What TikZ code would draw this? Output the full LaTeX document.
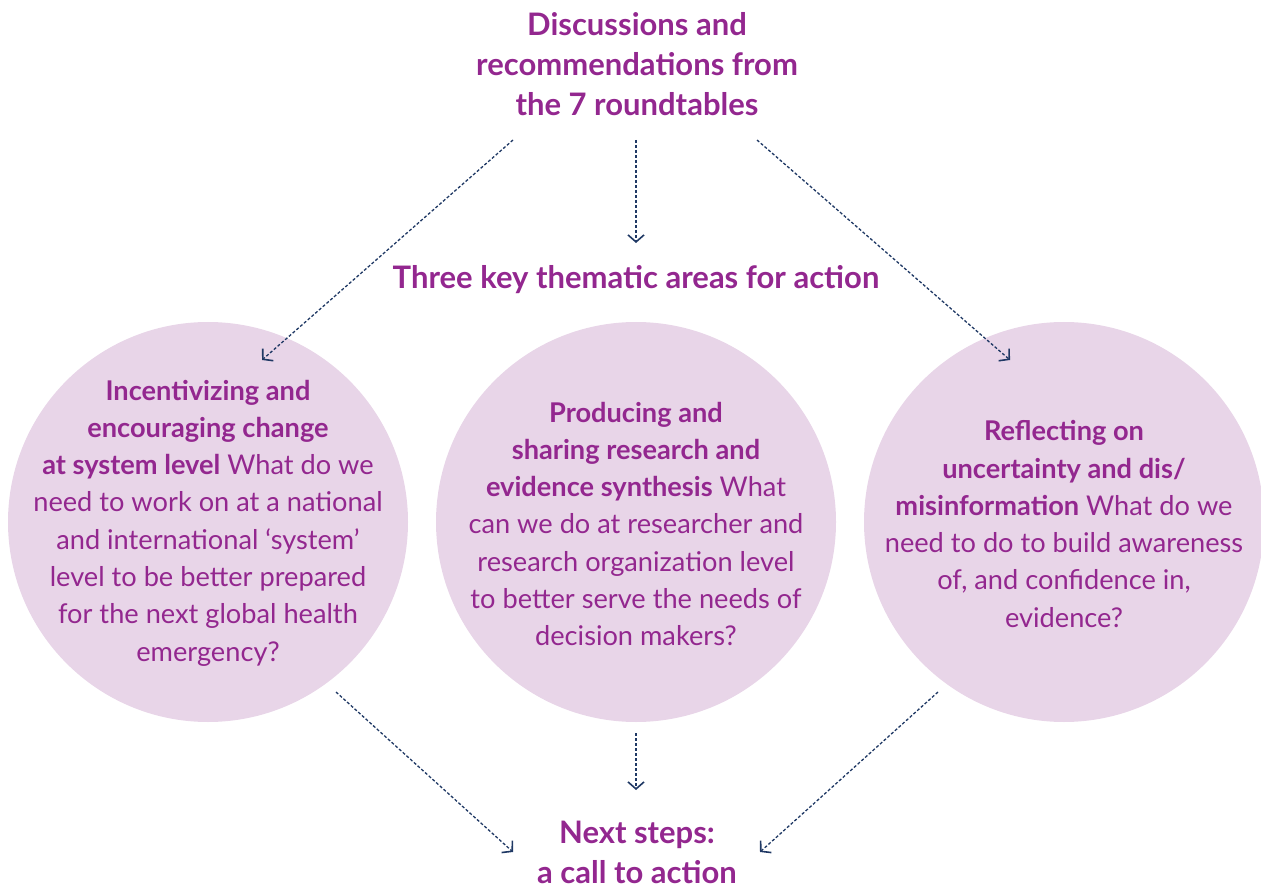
\documentclass[tikz,border=0pt]{standalone}
\usepackage{fontspec}
\setmainfont{Lato}
\usetikzlibrary{arrows.meta}
\definecolor{purp}{HTML}{93278F}
\definecolor{pinkfill}{HTML}{E8D5E8}
\definecolor{navy}{HTML}{1F3864}
\tikzset{
  circ/.style={circle, fill=pinkfill, minimum size=400pt, inner sep=0pt},
  body/.style={text=purp, align=center, font=\fontsize{27.2}{37.3}\selectfont},
  head/.style={text=purp, align=center, font=\fontsize{31}{40}\selectfont\bfseries},
  arr/.style={navy, line width=1.3pt, dash pattern=on 3pt off 2pt, -{Straight Barb[length=7pt,width=16pt,line width=1.6pt]}}
}
\begin{document}
\begin{tikzpicture}[x=1pt,y=-1pt]
\useasboundingbox (0,0) rectangle (1261,890);
\node[circ] (c1) at (208,522) {};
\node[circ] (c2) at (636,522) {};
\node[circ] (c3) at (1064,522) {};
\node[head] (title) at (637,64) {Discussions and\\recommendations from\\the 7 roundtables};
\node[head] (theme) at (636,280) {Three key thematic areas for action};
\node[head] (next) at (637,852) {Next steps:\\a call to action};
\node[body] (t1) at (208,523) {\textbf{Incentivizing and}\\\textbf{encouraging change}\\\textbf{at system level} What do we\\need to work on at a national\\and international ‘system’\\level to be better prepared\\for the next global health\\emergency?};
\node[body] (t2) at (636,524) {\textbf{Producing and}\\\textbf{sharing research and}\\\textbf{evidence synthesis} What\\can we do at researcher and\\research organization level\\to better serve the needs of\\decision makers?};
\node[body] (t3) at (1064,524) {\textbf{Reflecting on}\\\textbf{uncertainty and dis/}\\\textbf{misinformation} What do we\\need to do to build awareness\\of, and confidence in,\\evidence?};
\coordinate (a1s) at (513,140); \coordinate (a1e) at (262,360);
\coordinate (a2s) at (636,140); \coordinate (a2e) at (636,243);
\coordinate (a3s) at (757,140); \coordinate (a3e) at (1010,360);
\coordinate (b1s) at (336,692); \coordinate (b1e) at (513,852);
\coordinate (b2s) at (636,733); \coordinate (b2e) at (636,790);
\coordinate (b3s) at (938,692); \coordinate (b3e) at (760,852);
\draw[arr] (a1s) -- (a1e);
\draw[arr] (a2s) -- (a2e);
\draw[arr] (a3s) -- (a3e);
\draw[arr] (b1s) -- (b1e);
\draw[arr] (b2s) -- (b2e);
\draw[arr] (b3s) -- (b3e);
\end{tikzpicture}
\end{document}
